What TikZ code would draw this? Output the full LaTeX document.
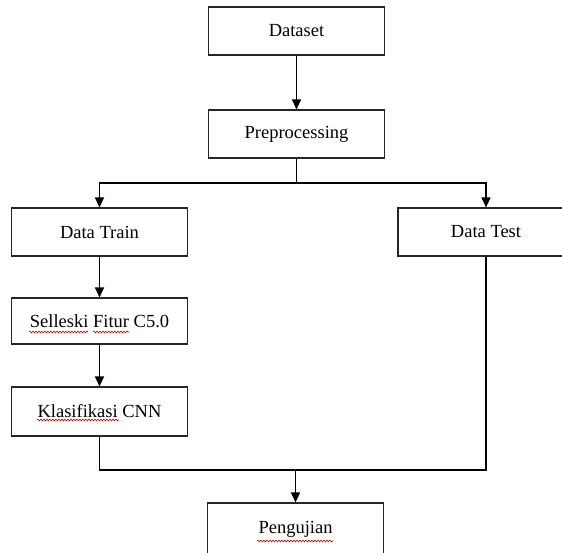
\documentclass[tikz,border=0pt]{standalone}
\usepackage{fontspec}
\setmainfont{Liberation Serif}
\usetikzlibrary{arrows.meta,decorations.pathmorphing}
\begin{document}
\begin{tikzpicture}[x=1pt,y=-1pt,
  box/.style={draw=black!85, line width=1.1pt, minimum width=176pt, minimum height=48pt, inner sep=0pt, font=\fontsize{18.5}{22}\selectfont},
  conn/.style={draw=black, line width=1.1pt},
  arr/.style={conn, -{Triangle[width=9pt,length=10pt]}},
  wavy/.style={draw=red!80!black, line width=0.6pt, decorate, decoration={snake, amplitude=0.9pt, segment length=3pt}}]
\useasboundingbox (0,0) rectangle (562,552);
\fill[white] (0,0) rectangle (562,552);
\node[box] (ds) at (296.5,31) {Dataset};
\node[box] (pp) at (296.5,134) {Preprocessing};
\node[box] (dtrain) at (99.5,232) {Data Train};
\node[box] (dtest) at (486,232) {Data Test};
\node[box, minimum height=46pt] (sel) at (99.5,321) {Selleski Fitur C5.0};
\node[box, minimum height=49pt] (kls) at (99.5,411.5) {Klasifikasi CNN};
\node[box, minimum height=52pt] (peng) at (295.5,529) {Pengujian};
\coordinate (split) at (296.5,183);
\coordinate (join) at (295.5,470);
\draw[arr] (ds) -- (pp);
\draw[conn] (pp.south) -- (split);
\draw[arr] (split) -| (dtrain.north);
\draw[arr] (split) -| (dtest.north);
\draw[arr] (dtrain) -- (sel);
\draw[arr] (sel) -- (kls);
\draw[conn] (kls.south) |- (join);
\draw[conn] (dtest.south) |- (join);
\draw[arr] (join) -- (peng.north);
\draw[wavy] (29,332) -- (88,332);
\draw[wavy] (93,332) -- (129,332);
\draw[wavy] (37,420) -- (119,420);
\draw[wavy] (257,541) -- (333,541);
\end{tikzpicture}
\end{document}
